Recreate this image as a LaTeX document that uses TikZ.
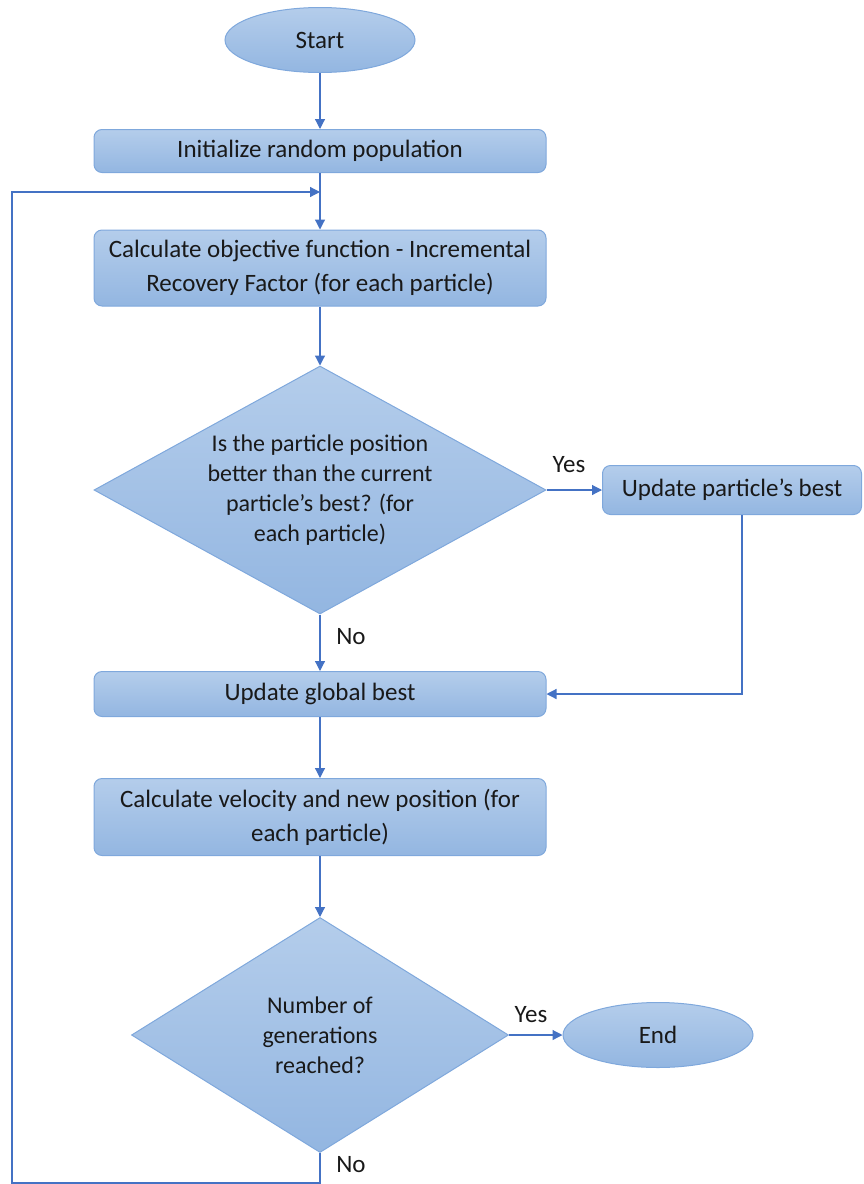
\documentclass[tikz,border=0pt]{standalone}
\usepackage{fontspec}
\setmainfont{Carlito}
\usetikzlibrary{shapes.geometric, arrows.meta}

\definecolor{boxtop}{HTML}{B4CDEB}
\definecolor{boxbot}{HTML}{93B6E1}
\definecolor{boxline}{HTML}{7FA8DC}
\definecolor{linkblue}{HTML}{4472C4}

\begin{document}
\begin{tikzpicture}[x=1pt, y=-1pt,
    every node/.style={font=\fontsize{25}{34}\selectfont, text=black!90},
    block/.style={rectangle, rounded corners=8pt, draw=boxline, line width=1pt,
        top color=boxtop, bottom color=boxbot, minimum width=452pt,
        inner sep=0pt, align=center},
    term/.style={ellipse, draw=boxline, line width=1pt, top color=boxtop,
        bottom color=boxbot, minimum width=190pt, minimum height=65pt, inner sep=0pt},
    decide/.style={diamond, draw=boxline, line width=1pt, top color=boxtop,
        bottom color=boxbot, inner sep=0pt, align=center,
        font=\fontsize{24}{30}\selectfont},
    link/.style={draw=linkblue, line width=1.2pt, -{Triangle[length=10pt, width=10pt]}}
]
    \useasboundingbox (0,0) rectangle (863,1184);

    % main column
    \node[term] (start) at (320,40) {Start};
    \node[block, minimum height=43pt] (init) at (320,151) {Initialize random population};
    \node[block, minimum height=76pt] (calc) at (320,268)
        {Calculate objective function - Incremental\\Recovery Factor (for each particle)};
    \node[decide, aspect=1.82, minimum width=452pt, minimum height=248pt] (pcheck) at (320,490)
        {Is the particle position\\better than the current\\particle’s best? (for\\each particle)};
    \node[block, minimum width=259pt, minimum height=49pt] (pbest) at (732,490) {Update particle’s best};
    \node[block, minimum height=45pt] (gbest) at (320,694) {Update global best};
    \node[block, minimum height=77pt] (vel) at (320,817)
        {Calculate velocity and new position (for\\each particle)};
    \node[decide, aspect=1.6, minimum width=377pt, minimum height=235pt] (gcheck) at (320,1035)
        {Number of\\generations\\reached?};
    \node[term] (end) at (658,1035) {End};

    % labels
    \node (yes1) at (569,465) {Yes};
    \node (no1) at (351,637) {No};
    \node (yes2) at (531,1015) {Yes};
    \node (no2) at (351,1165) {No};

    % loop back points
    \coordinate (join) at (320,192);
    \coordinate (lt) at (12,192);
    \coordinate (lb) at (12,1183);

    \draw[link] (start) -- (init);
    \draw[link] (init) -- (calc);
    \draw[link] (calc) -- (pcheck);
    \draw[link] (pcheck) -- (pbest);
    \draw[link] (pcheck) -- (gbest);
    \draw[link] ([xshift=10pt]pbest.south) |- (gbest.east);
    \draw[link] (gbest) -- (vel);
    \draw[link] (vel) -- (gcheck);
    \draw[link] (gcheck) -- (end);
    \draw[link] (gcheck.south) |- (lb) -- (lt) -- (join);
\end{tikzpicture}
\end{document}
